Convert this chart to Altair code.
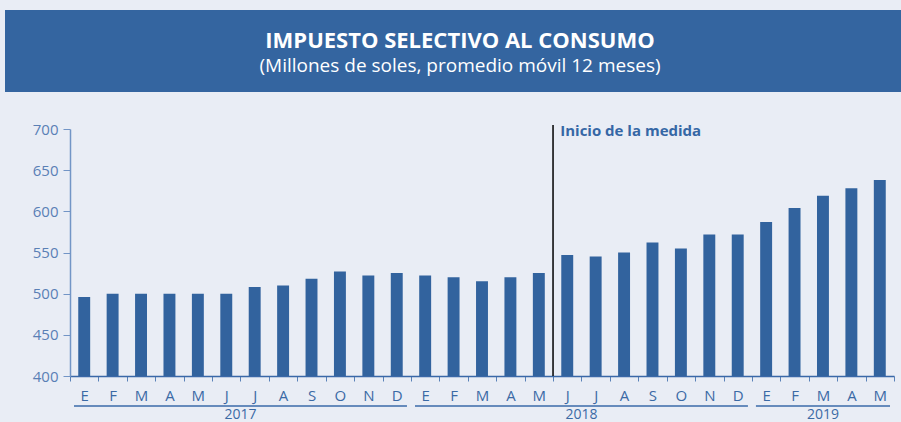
import altair as alt
import pandas as pd

# ---- data ----
meses = ["E", "F", "M", "A", "M", "J", "J", "A", "S", "O", "N", "D",
         "E", "F", "M", "A", "M", "J", "J", "A", "S", "O", "N", "D",
         "E", "F", "M", "A", "M"]
anios = [2017] * 12 + [2018] * 12 + [2019] * 5
valores = [496, 500, 500, 500, 500, 500, 508, 510, 518, 527, 522, 525,
           522, 520, 515, 520, 525, 547, 545, 550, 562, 555, 572, 572,
           587, 604, 619, 628, 638]
y_ticks = [400, 450, 500, 550, 600, 650, 700]
anio_labels = ["2017", "2018", "2019"]
titulo = "IMPUESTO SELECTIVO AL CONSUMO"
subtitulo = "(Millones de soles, promedio móvil 12 meses)"
anotacion = "Inicio de la medida"
inicio_periodo_idx = 17  # J 2018

# ---- tables ----
periodos = [f"{a}-{i % 12 + 1:02d}" for i, a in enumerate(anios)]
df = pd.DataFrame({"periodo": periodos, "mes": meses, "anio": anios, "valor": valores})
mes_array = "[" + ",".join(f"'{m}'" for m in meses) + "]"
label_expr = f"{mes_array}[indexof({str(periodos)}, datum.value)]"

starts, ends, pos = [], [], 0
for a in anio_labels:
    n = anios.count(int(a))
    starts.append(pos)
    ends.append(pos + n)
    pos += n
df_years = pd.DataFrame({"anio": anio_labels, "start": starts, "end": ends,
                         "mid": [(s + e) / 2 for s, e in zip(starts, ends)]})

W, H = 824, 247
BLUE = "#32639E"
TXT = "#3B6AA5"

xscale = alt.Scale(domain=periodos, paddingInner=0, paddingOuter=0)

bars = alt.Chart(df).mark_bar(color=BLUE, width=alt.RelativeBandSize(0.42), clip=True).encode(
    x=alt.X("periodo:N", scale=xscale, sort=periodos, title=None,
            axis=alt.Axis(labelExpr=label_expr, labelAngle=0, tickBand="extent",
                          domainColor="#3A68A8", domainWidth=1.5, tickColor="#5A82B8",
                          tickSize=5, labelColor=TXT, labelFontSize=15,
                          labelFont="Open Sans", labelPadding=7)),
    y=alt.Y("valor:Q", scale=alt.Scale(domain=[400, 700], nice=False, zero=False),
            title=None,
            axis=alt.Axis(values=y_ticks, grid=False, domainColor="#7295C6",
                          domainWidth=1.5, tickColor="#7295C6", tickSize=7,
                          labelColor="#5A80B5", labelFontSize=15,
                          labelFont="Open Sans", labelPadding=5)),
    y2=alt.datum(400),
)

df_line = pd.DataFrame({"periodo": [periodos[inicio_periodo_idx]], "t": [anotacion]})
vline = alt.Chart(df_line).mark_rule(color="black", strokeWidth=1.5).encode(
    x=alt.X("periodo:N", scale=xscale, bandPosition=0, axis=None, sort=periodos),
    y=alt.value(-4), y2=alt.value(H),
)
vtext = alt.Chart(df_line).mark_text(align="left", baseline="middle", dx=-7,
                                     fontWeight="bold", fontSize=15, font="Open Sans",
                                     color="#3567A5").encode(
    x=alt.X("periodo:N", scale=xscale, axis=None, sort=periodos),
    y=alt.value(2), text="t:N",
)

qscale = alt.Scale(domain=[0, len(periodos)], nice=False, zero=False)
underline = alt.Chart(df_years).mark_rule(color="#3A6AA8", strokeWidth=1.5,
                                          xOffset=4, x2Offset=-4).encode(
    x=alt.X("start:Q", scale=qscale, axis=None), x2="end:Q", y=alt.value(277),
)
year_text = alt.Chart(df_years).mark_text(baseline="middle", fontSize=14,
                                          font="Open Sans", color=TXT).encode(
    x=alt.X("mid:Q", scale=qscale, axis=None), y=alt.value(286), text="anio:N",
)

banner = alt.Chart(pd.DataFrame({"t": [titulo]})).mark_rect(color="#3465A0").encode(
    x=alt.value(-65), x2=alt.value(831), y=alt.value(-119), y2=alt.value(-37),
)
t1 = alt.Chart(pd.DataFrame({"t": [titulo]})).mark_text(
    baseline="middle", fontSize=22, fontWeight="bold", font="Open Sans", color="white"
).encode(x=alt.value(390), y=alt.value(-88), text="t:N")
t2 = alt.Chart(pd.DataFrame({"t": [subtitulo]})).mark_text(
    baseline="middle", fontSize=19, font="Open Sans", color="white"
).encode(x=alt.value(390), y=alt.value(-63), text="t:N")

chart = alt.layer(banner, t1, t2, bars, vline, vtext, underline, year_text).resolve_scale(
    x="independent"
).properties(
    width=W, height=H,
    autosize=alt.AutoSizeParams(type="none"),
    padding={"left": 70, "top": 129, "right": 7, "bottom": 46},
    background="#E9EDF5",
).configure_view(stroke=None)

chart.save("out.html", embed_options={"renderer": "svg", "actions": False})
